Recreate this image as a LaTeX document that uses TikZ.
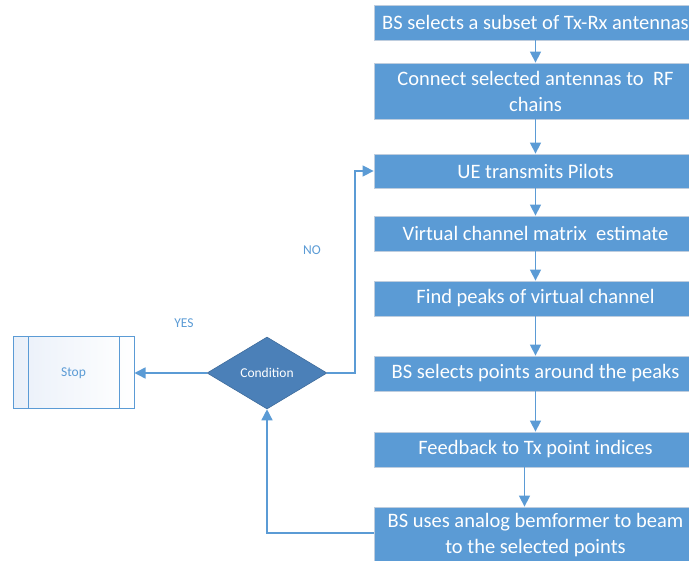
\documentclass[tikz,border=0pt]{standalone}
\usepackage{fontspec}
\setmainfont{Carlito}
\usetikzlibrary{arrows.meta,shapes.geometric}
\definecolor{boxblue}{RGB}{91,155,213}
\definecolor{boxedge}{RGB}{190,205,222}
\definecolor{diablue}{RGB}{75,128,184}
\definecolor{lineblue}{RGB}{91,155,213}
\definecolor{stopfill}{RGB}{234,240,249}
\begin{document}
\begin{tikzpicture}[x=1pt,y=-1pt,
  stepbox/.style={rectangle, fill=boxblue, draw=boxedge, line width=0.8pt,
    minimum width=323pt, text=white, font=\fontsize{20.5}{26}\selectfont,
    align=center, inner sep=0pt},
  conn/.style={draw=lineblue, line width=1.5pt,
    -{Triangle[width=11pt,length=11pt]}},
  lbl/.style={text=lineblue, font=\fontsize{13.5}{15}\selectfont}]
\useasboundingbox (0,0) rectangle (689,561);
\node[stepbox, minimum height=35pt] (b1) at (535.5,22.5) {BS selects a subset of Tx-Rx antennas};
\node[stepbox, minimum height=56pt] (b2) at (535.5,91) {Connect selected antennas to\ \ RF\\chains};
\node[stepbox, minimum height=34pt] (b3) at (535.5,171) {UE transmits Pilots};
\node[stepbox, minimum height=35pt] (b4) at (535.5,233.5) {Virtual channel matrix\ \ estimate};
\node[stepbox, minimum height=35pt] (b5) at (535.5,298.5) {Find peaks of virtual channel};
\node[stepbox, minimum height=35pt] (b6) at (535.5,373.5) {BS selects points around the peaks};
\node[stepbox, minimum height=35pt] (b7) at (535.5,449.5) {Feedback to Tx point indices};
\node[stepbox, minimum height=56pt] (b8) at (535.5,535) {BS uses analog bemformer to beam\\to the selected points};

\node[diamond, fill=diablue, draw=diablue!85!black, line width=0.6pt,
  minimum width=120pt, minimum height=72pt, inner sep=0pt, aspect=1.67,
  text=white, font=\fontsize{13.5}{15}\selectfont] (c) at (267,373) {Condition};

\node[rectangle, draw=lineblue, line width=1pt, left color=stopfill, right color=white,
  minimum width=121pt, minimum height=72pt, inner sep=0pt,
  text=lineblue, font=\fontsize{13.5}{15}\selectfont] (s) at (73.5,373) {Stop};
\draw[lineblue, line width=1pt] ([xshift=16pt]s.north west) -- ([xshift=16pt]s.south west);
\draw[lineblue, line width=1pt] ([xshift=-15pt]s.north east) -- ([xshift=-15pt]s.south east);

\coordinate (k1) at (355,373);
\coordinate (k2) at (355,171);
\coordinate (k3) at (267,533);

\draw[conn] (b1) -- (b2);
\draw[conn] (b2) -- (b3);
\draw[conn] (b3) -- (b4);
\draw[conn] (b4) -- (b5);
\draw[conn] (b5) -- (b6);
\draw[conn] (b6) -- (b7);
\draw[conn] ([xshift=-11pt]b7.south) -- ([xshift=-11pt]b8.north);
\draw[conn] (c.west) -- (s.east);
\draw[conn] (c.east) -- (k1) -- (k2) -- (b3.west);
\draw[conn] (b8.west |- k3) -- (k3) -- (c.south);

\node[lbl] (yes) at (184,323) {YES};
\node[lbl] (no) at (312,250) {NO};
\end{tikzpicture}
\end{document}
